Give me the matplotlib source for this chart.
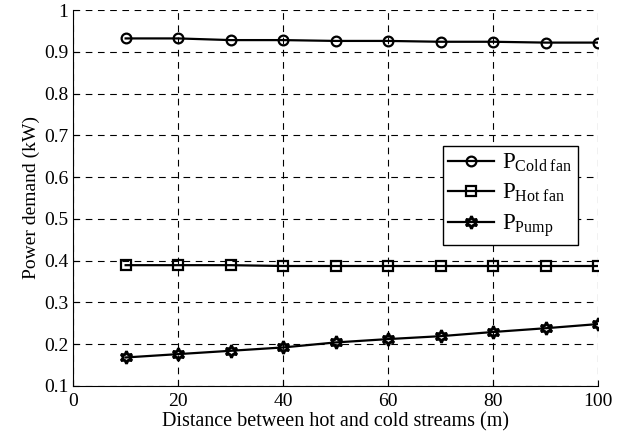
import numpy as np
import matplotlib.pyplot as plt

plt.rcParams['font.family'] = ['Liberation Serif', 'DejaVu Serif']
plt.rcParams['mathtext.fontset'] = 'custom'
plt.rcParams['mathtext.rm'] = 'Liberation Serif'
plt.rcParams['mathtext.it'] = 'Liberation Serif:italic'

distance = [10, 20, 30, 40, 50, 60, 70, 80, 90, 100]
p_cold_fan = [0.932, 0.932, 0.928, 0.928, 0.926, 0.926, 0.924, 0.924, 0.922, 0.922]
p_hot_fan = [0.389, 0.389, 0.389, 0.387, 0.387, 0.387, 0.387, 0.387, 0.387, 0.387]
p_pump = [0.168, 0.176, 0.184, 0.192, 0.204, 0.212, 0.219, 0.229, 0.238, 0.248]

x_ticks = [0, 20, 40, 60, 80, 100]
y_ticks = [0.1, 0.2, 0.3, 0.4, 0.5, 0.6, 0.7, 0.8, 0.9, 1.0]
y_tick_labels = ["0.1", "0.2", "0.3", "0.4", "0.5", "0.6", "0.7", "0.8", "0.9", "1"]


def plot_power(ax):
    ax.plot(distance, p_cold_fan, color="black", lw=1.6, marker="o", ms=7,
            mfc="none", mew=1.6, label=r"$\mathrm{P}_{\mathrm{Cold\ fan}}$")
    ax.plot(distance, p_hot_fan, color="black", lw=1.6, marker="s", ms=7,
            mfc="none", mew=1.6, label=r"$\mathrm{P}_{\mathrm{Hot\ fan}}$")
    ax.plot(distance, p_pump, color="black", lw=1.6, marker=(6, 1, 0), ms=9,
            mfc="none", mew=2.0, label=r"$\mathrm{P}_{\mathrm{Pump}}$")


def main():
    fig = plt.figure(figsize=(6.25, 4.36), dpi=100)
    ax = fig.add_axes([0.117, 0.115, 0.84, 0.862])
    plot_power(ax)

    ax.set_xlim(0, 100)
    ax.set_ylim(0.1, 1.0)
    ax.set_xticks(x_ticks)
    ax.set_yticks(y_ticks)
    ax.set_yticklabels(y_tick_labels)
    ax.tick_params(direction="in", labelsize=14, length=4, top=False, right=False)
    ax.tick_params(axis="x", pad=5)
    ax.spines["top"].set_visible(False)
    ax.spines["right"].set_visible(False)
    ax.grid(True, color="black", linestyle=(0, (6, 5)), linewidth=0.8)
    ax.set_axisbelow(True)

    ax.set_xlabel("Distance between hot and cold streams (m)", fontsize=14.5, labelpad=2)
    ax.set_ylabel("Power demand (kW)", fontsize=14, labelpad=3)

    leg = ax.legend(loc="upper right", bbox_to_anchor=(0.962, 0.638), fontsize=16.5,
                    fancybox=False, edgecolor="black", framealpha=1,
                    handlelength=2.0, handletextpad=0.35, borderpad=0.25,
                    labelspacing=0.35, borderaxespad=0)
    leg.get_frame().set_linewidth(1.0)

    fig.savefig("out.png", dpi=100)


if __name__ == "__main__":
    main()
